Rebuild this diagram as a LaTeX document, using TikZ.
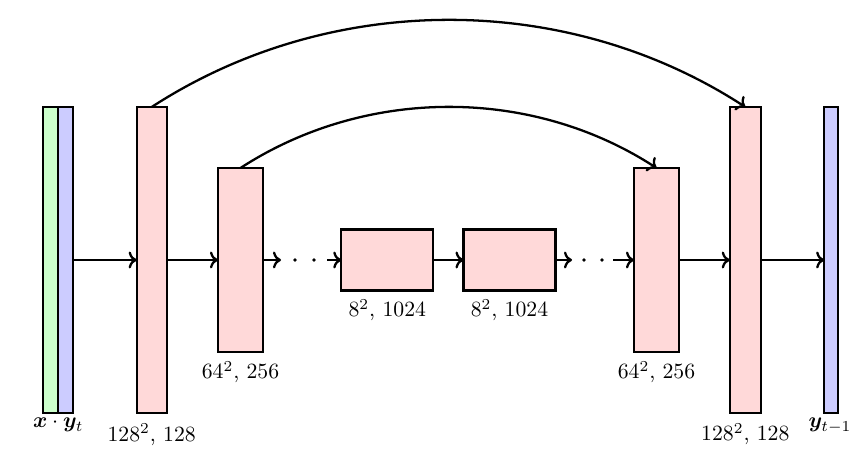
\documentclass[tikz,border=0pt]{standalone}
\usepackage{amsmath,bm}
\usetikzlibrary{arrows.meta}
\definecolor{greenc}{RGB}{204,255,204}
\definecolor{bluec}{RGB}{204,204,255}
\definecolor{pinkc}{RGB}{255,217,217}
\begin{document}
\begin{tikzpicture}[x=0.46pt,y=0.46pt,
  blk/.style={draw=black, line width=1.05pt, inner sep=0pt, outer sep=0pt},
  conn/.style={-{To[scale=0.95]}, line width=1.05pt},
  skip/.style={conn, bend left=33, looseness=0.92},
  lab/.style={anchor=base, inner sep=0pt},
  dotm/.style={circle, fill=black, draw=none, inner sep=0pt, minimum size=3.8*0.46pt}]
\useasboundingbox (0,0) rectangle (868,460);
% blocks
\node[blk, fill=greenc, minimum width=15*0.46pt, minimum height=306*0.46pt] (g) at (50.8,200) {};
\node[blk, fill=bluec, minimum width=15*0.46pt, minimum height=306*0.46pt] (yin) at (65.8,200) {};
\node[blk, fill=pinkc, minimum width=30*0.46pt, minimum height=306*0.46pt] (b1) at (151.7,200) {};
\node[blk, fill=pinkc, minimum width=45*0.46pt, minimum height=184*0.46pt] (b2) at (240.5,200) {};
\node[blk, fill=pinkc, minimum width=92*0.46pt, minimum height=61*0.46pt] (b3) at (387.3,200) {};
\node[blk, fill=pinkc, minimum width=92*0.46pt, minimum height=61*0.46pt] (b4) at (509.5,200) {};
\node[blk, fill=pinkc, minimum width=45*0.46pt, minimum height=184*0.46pt] (b5) at (656.5,200) {};
\node[blk, fill=pinkc, minimum width=31*0.46pt, minimum height=306*0.46pt] (b6) at (745.3,200) {};
\node[blk, fill=bluec, minimum width=14*0.46pt, minimum height=306*0.46pt] (yout) at (831.2,200) {};
% dots
\coordinate (c1) at (281,200);
\node[dotm] (d1) at (295,200) {};
\node[dotm] (d2) at (314,200) {};
\coordinate (c2) at (327,200);
\coordinate (c3) at (572,200);
\node[dotm] (d3) at (584,200) {};
\node[dotm] (d4) at (602,200) {};
\coordinate (c4) at (613,200);
% connectors
\draw[conn] (yin.east) -- (b1.west);
\draw[conn] (b1.east) -- (b2.west);
\draw[conn] (b2.east) -- (c1);
\draw[conn] (c2) -- (b3.west);
\draw[conn] (b3.east) -- (b4.west);
\draw[conn] (b4.east) -- (c3);
\draw[conn] (c4) -- (b5.west);
\draw[conn] (b5.east) -- (b6.west);
\draw[conn] (b6.east) -- (yout.west);
\draw[skip] (b1.north) to (b6.north);
\draw[skip] (b2.north) to (b5.north);
% labels
\node[lab] (lx) at (58.3,32) {$\bm{x}\cdot\bm{y}_t$};
\node[lab] (l1) at (151.7,18.5) {$128^2$, $128$};
\node[lab] (l2) at (240.5,81) {$64^2$, $256$};
\node[lab] (l3) at (387.3,143) {$8^2$, $1024$};
\node[lab] (l4) at (509.5,143) {$8^2$, $1024$};
\node[lab] (l5) at (656.5,81) {$64^2$, $256$};
\node[lab] (l6) at (745.3,19) {$128^2$, $128$};
\node[lab] (ly) at (830,32) {$\bm{y}_{t-1}$};
\end{tikzpicture}
\end{document}
